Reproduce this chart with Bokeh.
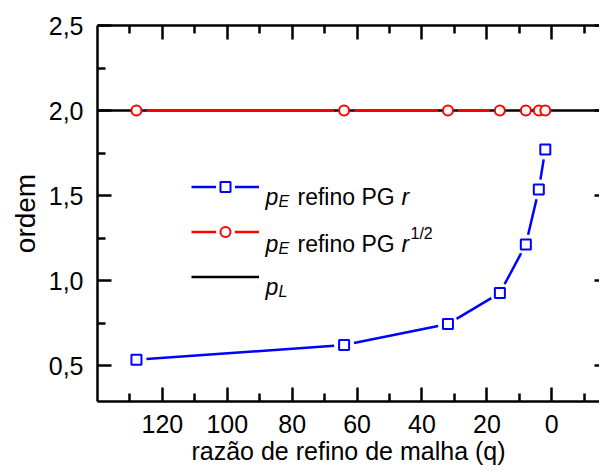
import math
from bokeh.plotting import figure
from bokeh.models import (Range1d, LinearAxis, FixedTicker, Legend, LegendItem, Label)
from bokeh.core.properties import value
from bokeh.embed import file_html
from bokeh.resources import INLINE

# ---------------- data ----------------
Q = [128, 64, 32, 16, 8, 4, 2]
PE_R = [0.535, 0.622, 0.745, 0.928, 1.213, 1.536, 1.771]
PE_R12 = [2.0, 2.0, 2.0, 2.0, 2.0, 2.0, 2.0]
P_L = 2.0

X_TICKS = [120, 100, 80, 60, 40, 20, 0]
X_MINOR = [130, 110, 90, 70, 50, 30, 10, -10]
X_TICK_LABELS = ["120", "100", "80", "60", "40", "20", "0"]
Y_TICKS = [0.5, 1.0, 1.5, 2.0, 2.5]
Y_MINOR = [0.75, 1.25, 1.75, 2.25]
Y_TICK_LABELS = ["0,5", "1,0", "1,5", "2,0", "2,5"]

X_LABEL = "razão de refino de malha (q)"
Y_LABEL = "ordem"

X_START, X_END = 140, -14.7
Y_START, Y_END = 0.29, 2.5

# ---------------- layout ----------------
W, H = 599, 468
ML, MR, MT, MB = 97, 0, 25, 67
FRAME_W = W - ML - MR
FRAME_H = H - MT - MB
FONT = "Liberation Sans"
BLUE = "#0000ff"
RED = "#ff0000"

p = figure(width=W, height=H, output_backend="svg", toolbar_location=None,
           x_range=Range1d(X_START, X_END), y_range=Range1d(Y_START, Y_END),
           x_axis_location=None, y_axis_location=None,
           min_border_left=ML, min_border_right=MR, min_border_top=MT,
           min_border_bottom=MB)
p.outline_line_color = None
p.xgrid.visible = False
p.ygrid.visible = False
p.background_fill_color = "white"
p.border_fill_color = "white"

xt = FixedTicker(ticks=X_TICKS, minor_ticks=X_MINOR)
yt = FixedTicker(ticks=Y_TICKS, minor_ticks=Y_MINOR)


def style_axis(ax, show_labels):
    ax.axis_line_width = 2.5
    ax.axis_line_color = "black"
    ax.major_tick_in = 14
    ax.major_tick_out = 0
    ax.minor_tick_in = 8
    ax.minor_tick_out = 0
    ax.major_tick_line_width = 2.5
    ax.minor_tick_line_width = 2.5
    ax.major_tick_line_color = "black"
    ax.minor_tick_line_color = "black"
    ax.major_label_text_font = FONT
    ax.major_label_text_color = "black"
    ax.axis_label_text_font = FONT
    ax.axis_label_text_color = "black"
    ax.axis_label_text_font_style = "normal"
    if show_labels:
        ax.major_label_text_font_size = "25px"
    else:
        ax.major_label_text_font_size = "0px"
        ax.major_label_standoff = 0


bottom = LinearAxis(ticker=xt)
style_axis(bottom, True)
bottom.major_label_overrides = {t: l for t, l in zip(X_TICKS, X_TICK_LABELS)}
bottom.major_label_standoff = 13
bottom.axis_label = X_LABEL
bottom.axis_label_text_font_size = "25px"
bottom.axis_label_standoff = 1
p.add_layout(bottom, "below")

top = LinearAxis(ticker=xt)
style_axis(top, False)
p.add_layout(top, "above")

left = LinearAxis(ticker=yt)
style_axis(left, True)
left.major_label_overrides = {t: l for t, l in zip(Y_TICKS, Y_TICK_LABELS)}
left.major_label_standoff = 14
left.axis_label = Y_LABEL
left.axis_label_text_font_size = "28px"
left.axis_label_standoff = 5
p.add_layout(left, "left")

right = LinearAxis(ticker=yt)
style_axis(right, False)
right.axis_line_color = None
right.major_tick_in = 5
right.minor_tick_line_color = None
p.add_layout(right, "right")

# ---------------- lines with gaps near markers ----------------
px_per_x = FRAME_W / abs(X_START - X_END)
px_per_y = FRAME_H / abs(Y_END - Y_START)


def gapped(xs, ys, gap_px, min_len):
    out_x, out_y = [], []
    for i in range(len(xs) - 1):
        dxd = xs[i + 1] - xs[i]
        dyd = ys[i + 1] - ys[i]
        L = math.hypot(dxd * px_per_x, dyd * px_per_y)
        if L - 2 * gap_px <= min_len:
            continue
        f = gap_px / L
        out_x.append([xs[i] + dxd * f, xs[i + 1] - dxd * f])
        out_y.append([ys[i] + dyd * f, ys[i + 1] - dyd * f])
    return out_x, out_y


bl = p.line(x=[X_START, X_END], y=[P_L, P_L], line_color="black", line_width=2.5)

rx, ry = gapped(Q, PE_R12, 10, 6)
red_seg = p.multi_line(xs=rx, ys=ry, line_color=RED, line_width=2.5)
bx, by = gapped(Q, PE_R, 10, 4)
blue_seg = p.multi_line(xs=bx, ys=by, line_color=BLUE, line_width=2.5)

red_pts = p.scatter(x=Q, y=PE_R12, marker="circle", size=10, line_color=RED,
                    line_width=2, fill_color="white")
blue_pts = p.scatter(x=Q, y=PE_R, marker="square", size=10, line_color=BLUE,
                     line_width=2, fill_color="white")

# white halos used only in the legend (NaN data => nothing drawn in the plot)
halo_sq = p.scatter(x=[float("nan")], y=[float("nan")], marker="square", size=10,
                    line_color="white", line_width=9, fill_color="white")
halo_ci = p.scatter(x=[float("nan")], y=[float("nan")], marker="circle", size=10,
                    line_color="white", line_width=9, fill_color="white")

legend = Legend(items=[
    LegendItem(label=value(" "), renderers=[blue_seg, halo_sq, blue_pts]),
    LegendItem(label=value(" "), renderers=[red_seg, halo_ci, red_pts]),
    LegendItem(label=value(" "), renderers=[bl]),
], location=(94, 112))
legend.glyph_width = 68
legend.glyph_height = 25
legend.spacing = 20
legend.padding = 0
legend.margin = 0
legend.label_width = 0
legend.label_height = 20
legend.label_standoff = 0
legend.label_text_font_size = "2px"
legend.border_line_color = None
legend.background_fill_alpha = 0
p.add_layout(legend, "center")


def lab(x, y, text, size="23px", style="normal"):
    p.add_layout(Label(x=x, y=y, x_units="screen", y_units="screen", text=text,
                       text_font=FONT, text_font_size=size, text_font_style=style,
                       text_color="black", text_baseline="alphabetic",
                       text_align="left"))


# legend texts (screen units: from frame left / frame bottom)
for base in (205, 158):
    lab(168, base, "p", style="italic")
    lab(181, base - 5, "E", size="16px", style="italic")
    lab(200, base, "refino PG")
    lab(304, base, "r", style="italic")
lab(313, 168, "1/2", size="16px")
lab(168, 115, "p", style="italic")
lab(181, 110, "L", size="16px", style="italic")

open("out.html", "w").write(file_html(p, INLINE))
